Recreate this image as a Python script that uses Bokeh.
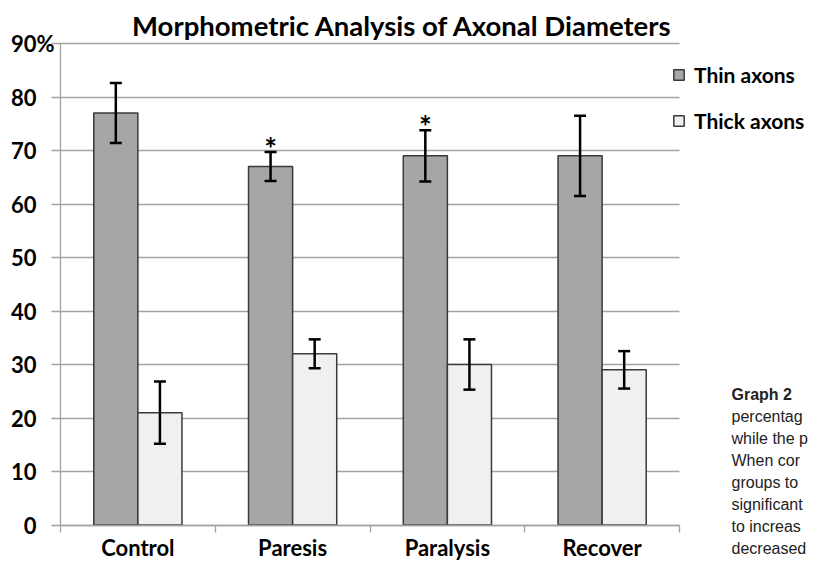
import numpy as np
from bokeh.plotting import figure
from bokeh.models import (Range1d, FixedTicker, ColumnDataSource, Whisker, TeeHead,
                          Legend, LegendItem, Label, LinearAxis, Grid)
from bokeh.core.properties import value
from bokeh.embed import file_html
from bokeh.resources import INLINE

# ---------------- data ----------------
categories = ["Control", "Paresis", "Paralysis", "Recover"]
thin = [77, 67, 69, 69]
thin_err = [5.6, 2.7, 4.8, 7.5]
thick = [21, 32, 30, 29]
thick_err = [5.8, 2.7, 4.7, 3.5]
significant = [False, True, True, False]
y_ticks = [0, 10, 20, 30, 40, 50, 60, 70, 80, 90]
y_tick_labels = ["0", "10", "20", "30", "40", "50", "60", "70", "80", "90"]
title_text = "Morphometric Analysis of Axonal Diameters"
series_names = ["Thin axons", "Thick axons"]
caption_lines = ["Graph 2", "percentag", "while the p", "When cor", "groups to",
                 "significant", "to increas", "decreased"]

# ---------------- layout / style ----------------
W, H = 809, 561
FONT = "Lato"
THIN_COLOR = "#a6a6a6"
THICK_COLOR = "#f0f0f0"
EDGE = "#3a3a3a"
GRID = "#a3a3a3"
BAR_W = 0.285
OFF = BAR_W / 2
n = len(categories)
YMAX = 90
LBL_SHIFT = 7   # empirical baseline correction for Label annotations (px)

# plot-area pixel box (canvas coordinates)
FX0, FX1, FY0, FYT = 60.0, 679.0, 524.5, 43.0
PX_X = (FX1 - FX0) / n
PX_Y = (FY0 - FYT) / YMAX

def dx(px):
    return (px - FX0) / PX_X

def dy(py):
    return (FY0 - py) / PX_Y

x_range = Range1d(dx(0), dx(W))
y_range = Range1d(dy(H), dy(0))

centers = np.arange(n) + 0.5
x_thin = centers - OFF
x_thick = centers + OFF

p = figure(width=W, height=H, x_range=x_range, y_range=y_range,
           output_backend="svg", toolbar_location=None,
           x_axis_location=None, y_axis_location=None,
           min_border=0, min_border_left=0, min_border_right=0,
           min_border_top=0, min_border_bottom=0)
p.outline_line_color = None
p.background_fill_color = "white"
p.border_fill_color = "white"
p.xgrid.visible = False
p.ygrid.visible = False

# horizontal gridlines restricted to the plot area
grid = Grid(dimension=1, ticker=FixedTicker(ticks=y_ticks), bounds=(0, YMAX),
            cross_bounds=(0, n), grid_line_color=GRID, grid_line_width=1.3)
p.add_layout(grid, "center")

# y axis
yaxis = LinearAxis(fixed_location=0, bounds=(0, YMAX), ticker=FixedTicker(ticks=y_ticks))
yaxis.major_label_overrides = {t: l for t, l in zip(y_ticks, y_tick_labels)}
yaxis.axis_line_color = GRID
yaxis.axis_line_width = 1.3
yaxis.major_tick_line_color = GRID
yaxis.major_tick_line_width = 1.3
yaxis.major_tick_out = 9
yaxis.major_tick_in = 0
yaxis.minor_tick_line_color = None
yaxis.major_label_standoff = 15
yaxis.major_label_text_font = FONT
yaxis.major_label_text_font_style = "bold"
yaxis.major_label_text_font_size = "22px"
yaxis.major_label_text_color = "black"
p.add_layout(yaxis, "left")

# x axis: labels at category centres, tick marks on category boundaries
xaxis = LinearAxis(fixed_location=0, bounds=(0, n),
                   ticker=FixedTicker(ticks=list(centers), minor_ticks=list(range(n + 1))))
xaxis.major_label_overrides = {float(c): name for c, name in zip(centers, categories)}
xaxis.axis_line_color = GRID
xaxis.axis_line_width = 1.3
xaxis.major_tick_line_color = None
xaxis.major_tick_out = 0
xaxis.major_tick_in = 0
xaxis.minor_tick_line_color = GRID
xaxis.minor_tick_line_width = 1.3
xaxis.minor_tick_out = 7
xaxis.minor_tick_in = 0
xaxis.major_label_standoff = 2
xaxis.major_label_text_font = FONT
xaxis.major_label_text_font_style = "bold"
xaxis.major_label_text_font_size = "22px"
xaxis.major_label_text_color = "black"
p.add_layout(xaxis, "below")

# bars
r_thin = p.vbar(x=x_thin, top=thin, width=BAR_W, fill_color=THIN_COLOR,
                line_color=EDGE, line_width=1.5)
r_thick = p.vbar(x=x_thick, top=thick, width=BAR_W, fill_color=THICK_COLOR,
                 line_color=EDGE, line_width=1.5)

# error bars
for xs, vals, errs in [(x_thin, thin, thin_err), (x_thick, thick, thick_err)]:
    src = ColumnDataSource(dict(base=list(xs),
                                upper=[v + e for v, e in zip(vals, errs)],
                                lower=[v - e for v, e in zip(vals, errs)]))
    w = Whisker(base="base", upper="upper", lower="lower", source=src,
                line_color="black", line_width=2.5,
                upper_head=TeeHead(size=12, line_width=2.5, line_color="black"),
                lower_head=TeeHead(size=12, line_width=2.5, line_color="black"),
                level="overlay")
    p.add_layout(w)

# significance asterisks
sig_x = [x for x, s in zip(x_thin, significant) if s]
sig_y = [v + e for v, e, s in zip(thin, thin_err, significant) if s]
p.text(x=sig_x, y=sig_y, text=["*"] * len(sig_x), text_align="center",
       text_baseline="alphabetic", y_offset=-4, text_font=value(FONT),
       text_font_style="bold", text_font_size="30px", text_color="black")

# "%" after 90
p.add_layout(Label(x=dx(36), y=YMAX, text="%", text_align="left", text_baseline="middle",
                   text_font=FONT, text_font_style="bold", text_font_size="22px",
                   text_color="black"))

# title
p.add_layout(Label(x=dx(402), y=dy(32 - LBL_SHIFT), text=title_text, text_align="center",
                   text_baseline="alphabetic", text_font=FONT, text_font_style="bold",
                   text_font_size="27.5px", text_color="black"))

# legend
legend = Legend(items=[LegendItem(label=series_names[0], renderers=[r_thin]),
                       LegendItem(label=series_names[1], renderers=[r_thick])],
                location=(672, H - 133), orientation="vertical")
legend.border_line_color = None
legend.background_fill_alpha = 0
legend.padding = 0
legend.margin = 0
legend.spacing = 21
legend.glyph_width = 13
legend.glyph_height = 13
legend.label_standoff = 9
legend.label_text_font = FONT
legend.label_text_font_style = "bold"
legend.label_text_font_size = "21px"
legend.label_text_color = "black"
p.add_layout(legend)

# cropped caption text at the right (compressed to stay inside the canvas)
for i, line in enumerate(caption_lines):
    p.add_layout(Label(x=dx(731), y=dy(401 + 22 * i - LBL_SHIFT), text=line,
                       text_align="left", text_baseline="alphabetic",
                       text_font="Liberation Sans",
                       text_font_style="bold" if i == 0 else "normal",
                       text_font_size="16px", text_color="#222222"))

open("out.html", "w").write(file_html(p, INLINE))
